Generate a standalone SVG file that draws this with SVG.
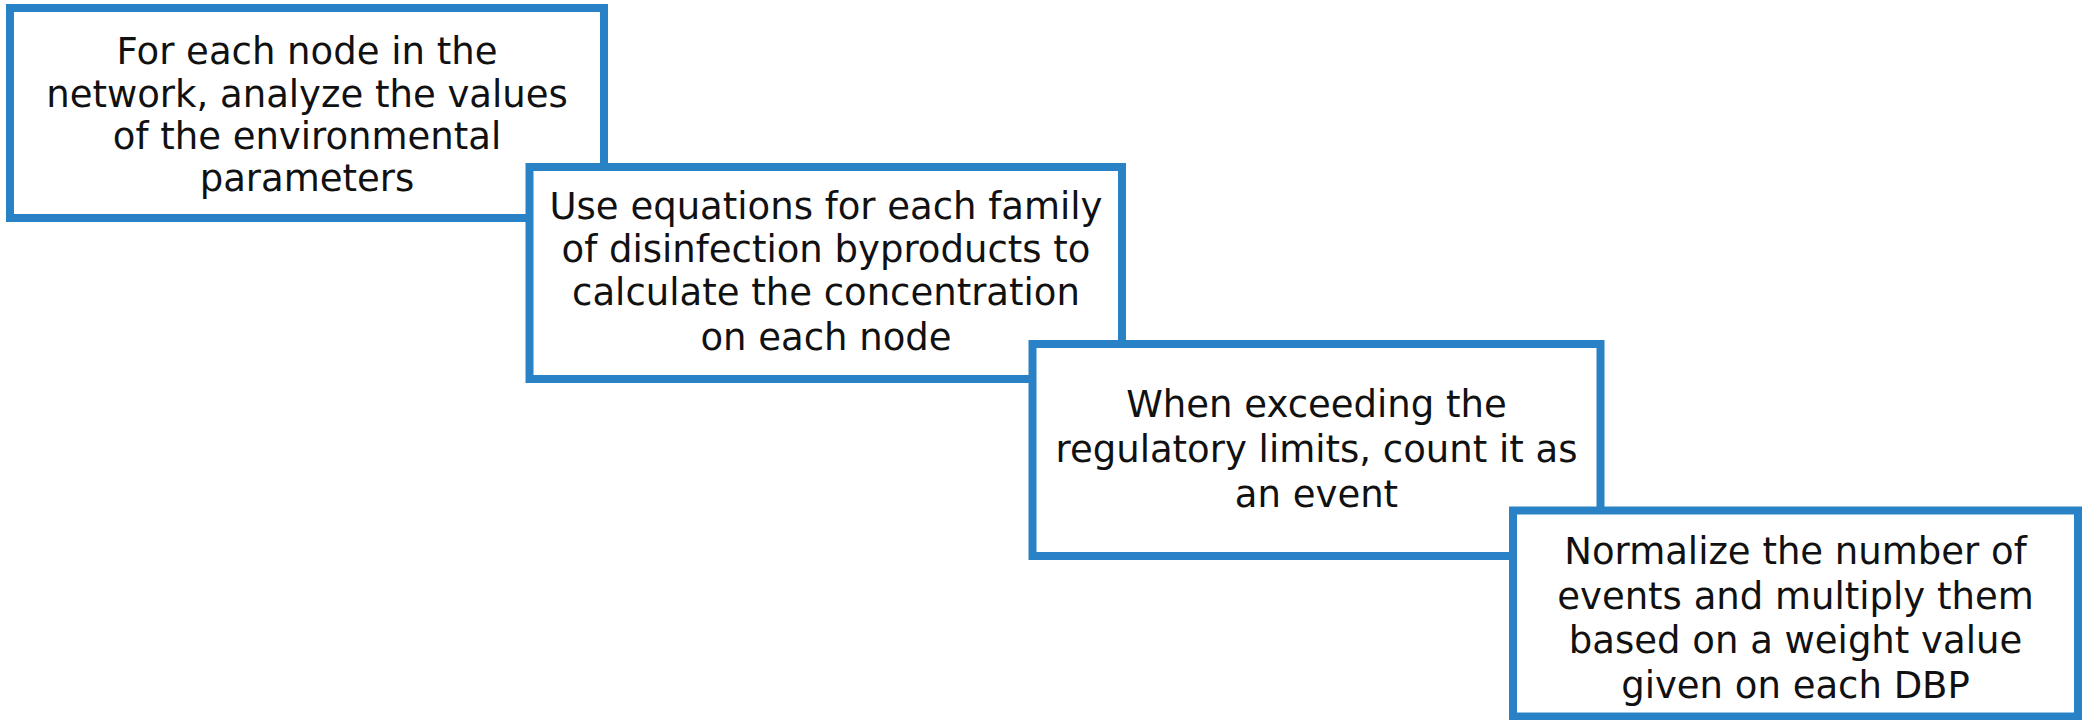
<svg xmlns="http://www.w3.org/2000/svg" width="2082" height="720" viewBox="0 0 2082 720">
  <style>
    .box { fill: #ffffff; stroke: #2a82c6; stroke-width: 8; }
    .lbl { font-family: "DejaVu Sans", "Open Sans", sans-serif; font-size: 37px; fill: #111111; text-anchor: middle; }
  </style>
  <rect width="2082" height="720" fill="#ffffff"/>
  <g id="connectors"></g>
  <!-- Step boxes, each drawn over the corner of the previous one -->
  <g id="step1">
    <rect class="box" x="10" y="8" width="594" height="210"/>
    <text class="lbl" x="307" y="64">For each node in the</text>
    <text class="lbl" x="307" y="107">network, analyze the values</text>
    <text class="lbl" x="307" y="149">of the environmental</text>
    <text class="lbl" x="307" y="191">parameters</text>
  </g>
  <g id="step2">
    <rect class="box" x="529.5" y="167" width="592.5" height="212"/>
    <text class="lbl" x="826" y="219">Use equations for each family</text>
    <text class="lbl" x="826" y="262">of disinfection byproducts to</text>
    <text class="lbl" x="826" y="305">calculate the concentration</text>
    <text class="lbl" x="826" y="350">on each node</text>
  </g>
  <g id="step3">
    <rect class="box" x="1032.5" y="344" width="568" height="212"/>
    <text class="lbl" x="1316.5" y="417">When exceeding the</text>
    <text class="lbl" x="1316.5" y="462">regulatory limits, count it as</text>
    <text class="lbl" x="1316.5" y="507">an event</text>
  </g>
  <g id="step4">
    <rect class="box" x="1513" y="510.5" width="565" height="206"/>
    <text class="lbl" x="1795.5" y="564">Normalize the number of</text>
    <text class="lbl" x="1795.5" y="609">events and multiply them</text>
    <text class="lbl" x="1795.5" y="653">based on a weight value</text>
    <text class="lbl" x="1795.5" y="698">given on each DBP</text>
  </g>
</svg>
